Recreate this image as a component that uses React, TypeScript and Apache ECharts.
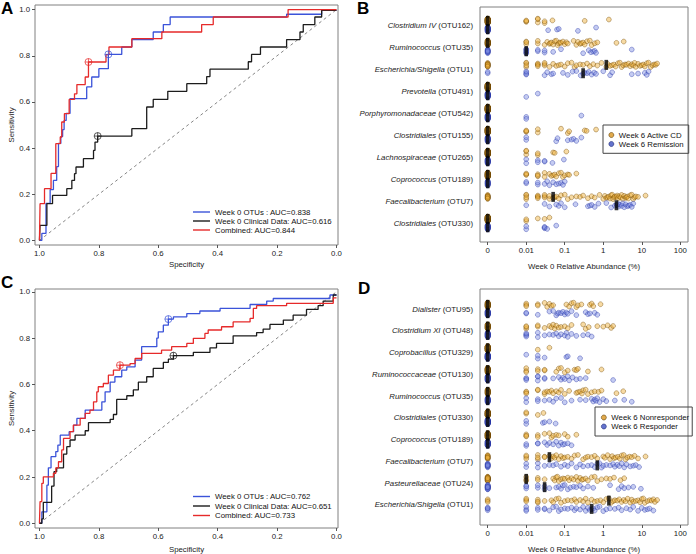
import React, { useEffect, useRef } from 'react';
import * as echarts from 'echarts';

const FONT = '"Liberation Sans", Arial, Helvetica, sans-serif';
const FS = 7.8;

// ---------- ROC data (specificity, sensitivity) ----------
const A_OTU_SPEC = [1.0,0.992,0.978,0.964,0.953,0.942,0.936,0.928,0.922,0.917,0.91,0.897,0.841,0.824,0.8,0.768,0.723,0.689,0.617,0.583,0.56,0.168,0.05,0.0];
const A_OTU_SENS = [0,0.03,0.16,0.22,0.26,0.32,0.42,0.45,0.48,0.52,0.55,0.614,0.665,0.708,0.744,0.806,0.838,0.87,0.903,0.935,0.968,0.98,0.997,1.0];
const A_CLIN_SPEC = [1.0,0.998,0.975,0.956,0.908,0.891,0.882,0.877,0.852,0.818,0.813,0.804,0.689,0.639,0.617,0.568,0.504,0.437,0.426,0.297,0.286,0.256,0.168,0.123,0.112,0.073,0.05,0.0];
const A_CLIN_SENS = [0,0.065,0.159,0.195,0.224,0.26,0.289,0.318,0.354,0.39,0.426,0.452,0.484,0.578,0.611,0.646,0.679,0.71,0.742,0.774,0.806,0.838,0.87,0.903,0.935,0.968,0.997,1.0];
const A_COMB_SPEC = [1.0,0.998,0.983,0.961,0.945,0.93,0.925,0.916,0.9,0.882,0.874,0.846,0.835,0.776,0.766,0.689,0.588,0.454,0.415,0.163,0.0];
const A_COMB_SENS = [0,0.159,0.224,0.29,0.419,0.448,0.513,0.549,0.611,0.635,0.675,0.708,0.773,0.805,0.838,0.874,0.903,0.935,0.968,1.0,1.0];
const A_BEST = { otu: [0.768, 0.806], clin: [0.804, 0.452], comb: [0.835, 0.773] };
const A_NAMES = ['Week 0 OTUs : AUC=0.838', 'Week 0 Clinical Data: AUC=0.616', 'Combined: AUC=0.844'];

const C_OTU_SPEC = [1.0,0.992,0.975,0.97,0.961,0.945,0.938,0.93,0.9,0.885,0.874,0.846,0.79,0.779,0.762,0.746,0.723,0.706,0.678,0.656,0.605,0.6,0.583,0.566,0.549,0.504,0.46,0.392,0.291,0.235,0.213,0.022,0.0];
const C_OTU_SENS = [0,0.05,0.165,0.24,0.288,0.31,0.338,0.381,0.396,0.424,0.453,0.489,0.525,0.568,0.61,0.633,0.662,0.676,0.705,0.763,0.80,0.827,0.856,0.882,0.892,0.906,0.917,0.928,0.945,0.96,0.971,0.986,0.986];
const C_CLIN_SPEC = [1.0,0.992,0.987,0.959,0.951,0.942,0.919,0.908,0.897,0.88,0.846,0.835,0.762,0.751,0.74,0.706,0.684,0.667,0.639,0.617,0.583,0.566,0.549,0.482,0.426,0.404,0.348,0.269,0.247,0.224,0.179,0.146,0.101,0.062,0.045,0.011,0.0];
const C_CLIN_SENS = [0,0.019,0.091,0.161,0.223,0.24,0.299,0.331,0.36,0.381,0.40,0.435,0.449,0.47,0.535,0.551,0.576,0.61,0.633,0.669,0.695,0.709,0.724,0.738,0.758,0.777,0.81,0.824,0.839,0.859,0.878,0.899,0.924,0.94,0.96,0.986,0.986];
const C_COMB_SPEC = [1.0,0.998,0.992,0.987,0.953,0.945,0.936,0.925,0.919,0.897,0.886,0.863,0.846,0.83,0.818,0.807,0.802,0.785,0.768,0.751,0.729,0.695,0.678,0.656,0.589,0.555,0.504,0.482,0.443,0.432,0.387,0.348,0.291,0.28,0.269,0.168,0.011,0.0];
const C_COMB_SENS = [0,0.094,0.173,0.201,0.216,0.24,0.266,0.317,0.367,0.396,0.424,0.453,0.475,0.489,0.525,0.568,0.59,0.604,0.64,0.662,0.683,0.69,0.712,0.734,0.748,0.763,0.777,0.799,0.82,0.835,0.849,0.87,0.885,0.928,0.94,0.95,0.974,0.974];
const C_BEST = { otu: [0.566, 0.882], clin: [0.549, 0.724], comb: [0.729, 0.683] };
const C_NAMES = ['Week 0 OTUs : AUC=0.762', 'Week 0 Clinical Data: AUC=0.651', 'Combined: AUC=0.733'];

const ROC_TICKS = [0, 0.2, 0.4, 0.6, 0.8, 1.0];

// ---------- Strip chart data (relative abundance %, nonzero values; rest are zeros) ----------
const B_GENUS = ['Clostridium IV','Ruminococcus','Escherichia/Shigella','Prevotella','Porphyromonadaceae','Clostridiales','Lachnospiraceae','Coprococcus','Faecalibacterium','Clostridiales'];
const B_OTU = ['(OTU162)','(OTU35)','(OTU1)','(OTU491)','(OTU542)','(OTU155)','(OTU265)','(OTU189)','(OTU7)','(OTU330)'];
const B_N_ACTIVE = 70;
const B_N_REMISSION = 30;
const B_ACTIVE: number[][] = [
  [0.01,0.01,0.01,0.02,0.02,0.02,0.03,0.03,0.048,0.33,1.4],
  [0.01,0.01,0.01,0.02,0.02,0.03,0.035,0.04,0.042,0.045,0.05,0.055,0.06,0.065,0.07,0.075,0.08,0.09,0.1,0.11,0.12,0.17,0.2,0.22,0.25,0.27,0.3,0.33,0.38,0.45,0.5,0.6,0.7,2.2,3.4],
  [0.01,0.01,0.01,0.01,0.02,0.02,0.02,0.02,0.03,0.03,0.03,0.04,0.05,0.06,0.07,0.08,0.1,0.12,0.15,0.18,0.2,0.25,0.3,0.38,0.45,0.55,0.7,0.9,1.2,1.3,1.5,1.7,1.9,2.1,2.4,2.7,3.0,3.3,3.7,4.0,4.5,5,5.5,6,6.5,7,8,9,10,11,12,13.5,15,17,19,21,23,25],
  [],
  [],
  [0.01,0.01,0.01,0.02,0.02,0.08,0.12,0.13,0.33,0.37,0.65],
  [0.01,0.01,0.01,0.02,0.02,0.05,0.055,0.11],
  [0.01,0.01,0.01,0.02,0.02,0.02,0.03,0.03,0.04,0.045,0.05,0.055,0.06,0.07,0.08,0.09,0.1,0.12,0.13,0.2],
  [0.01,0.01,0.01,0.01,0.02,0.02,0.02,0.02,0.03,0.03,0.03,0.04,0.04,0.05,0.055,0.06,0.07,0.08,0.1,0.12,0.15,0.2,0.25,0.3,0.4,0.5,0.6,0.8,1.0,1.1,1.2,1.3,1.4,1.5,1.6,1.7,1.8,1.9,2.0,2.2,2.3,2.4,2.6,2.8,3.0,3.2,3.5,3.8,4.0,4.2,4.5,5.0,5.5,6.0,6.5,7.0,8.0,12.5],
  [0.01,0.01,0.02,0.03,0.04],
];
const B_REMISSION: number[][] = [
  [0.037,0.063,0.07,0.22,0.65],
  [0.01,0.01,0.01,0.01,0.01,0.01,0.02,0.02,0.03,0.03,0.05,0.08,0.3,0.42,0.48,0.55,0.6,0.65,5.5],
  [0.01,0.01,0.01,0.01,0.03,0.035,0.045,0.05,0.09,0.12,0.16,0.2,0.26,0.3,0.33,0.38,0.42,0.5,0.58,0.65,1.0,1.5,1.7,5.5,8,12,13.5,15],
  [0.01,0.02],
  [0.01,0.01,0.27],
  [0.01,0.01,0.06,0.065,0.12,0.15,0.17,0.2,0.27],
  [0.01,0.01,0.02,0.02,0.03,0.03,0.048,0.095],
  [0.01,0.01,0.02,0.02,0.03,0.035,0.04,0.05,0.06,0.07,0.08,0.09,0.1],
  [0.01,0.03,0.04,0.06,0.07,0.08,0.1,0.19,0.4,0.45,0.5,0.6,0.75,1.2,1.6,2.0,2.2,2.3,2.4,2.5,2.7,3.0,3.2,3.5,3.8,4.2,4.6,5.0,5.5,6.0],
  [0.01,0.01,0.03,0.03,0.03,0.035,0.06],
];
const B_ACTIVE_MEDIAN = [0,0,1.2,0,0,0,0,0,0.05,0];
const B_REMISSION_MEDIAN = [0,0.01,0.3,0,0,0,0,0,2.2,0];

const D_GENUS = ['Dialister','Clostridium XI','Coprobacillus','Ruminococcaceae','Ruminococcus','Clostridiales','Coprococcus','Faecalibacterium','Pasteurellaceae','Escherichia/Shigella'];
const D_OTU = ['(OTU95)','(OTU48)','(OTU329)','(OTU130)','(OTU35)','(OTU330)','(OTU189)','(OTU7)','(OTU24)','(OTU1)'];
const D_N_NONRESP = 55;
const D_N_RESP = 46;
const D_NONRESP: number[][] = [
  [0.01,0.01,0.01,0.02,0.02,0.03,0.035,0.04,0.045,0.05,0.11,0.13,0.15,0.17,0.2,0.22,0.27,0.45,0.5,0.55,0.85],
  [0.01,0.01,0.01,0.02,0.02,0.03,0.04,0.045,0.05,0.055,0.06,0.07,0.08,0.1,0.12,0.15,0.3,0.35,0.42,0.7,1.0,1.3,1.6,1.8],
  [0.02,0.04],
  [0.01,0.01,0.01,0.02,0.02,0.03,0.03,0.06,0.07,0.08,0.1,0.12,0.18,0.2,0.22,0.4,0.9],
  [0.01,0.01,0.01,0.02,0.02,0.03,0.03,0.035,0.04,0.045,0.05,0.06,0.07,0.08,0.1,0.13,0.2,0.22,0.25,0.28,0.3,0.35,0.4,0.5,0.6,0.75,0.9,2.2,3.3],
  [0.01,0.01,0.02,0.028],
  [0.01,0.01,0.01,0.02,0.02,0.03,0.04,0.045,0.05,0.06,0.07,0.1,0.12,0.2],
  [0.01,0.01,0.01,0.02,0.02,0.02,0.03,0.03,0.04,0.045,0.05,0.055,0.06,0.07,0.08,0.09,0.1,0.12,0.15,0.18,0.22,0.3,0.35,0.4,0.5,0.6,0.7,1.0,1.1,1.3,1.5,1.7,1.9,2.1,2.4,2.7,3.0,3.4,3.8,4.2,4.8,5.5,6.5,8,12.5],
  [0.01,0.01,0.01,0.02,0.02,0.03,0.05,0.055,0.06,0.065,0.07,0.08,0.09,0.1,0.12,0.13,0.15,0.17,0.2,0.22,0.25,0.28,0.3,0.35,0.4,0.5,0.6,0.7,0.9,1.2,1.5,1.9,2.8,3.5],
  [0.01,0.01,0.01,0.02,0.02,0.02,0.03,0.045,0.05,0.06,0.07,0.08,0.1,0.12,0.15,0.18,0.2,0.25,0.3,0.35,0.4,0.5,0.6,0.7,0.85,1.0,1.2,1.4,1.6,1.8,2.0,2.3,2.6,3.0,3.4,3.8,4.3,5,5.5,6,7,8,9,10,11,12,14,16,18,20,22,25],
];
const D_RESP: number[][] = [
  [0.01,0.01,0.02,0.04,0.05,0.06,0.065,0.07,0.08,0.09,0.1,0.11,0.12,0.15,0.2,0.35,0.4,0.45,0.6,0.7],
  [0.01,0.01,0.01,0.01,0.02,0.02,0.03,0.04,0.05,0.06,0.07,0.08,0.1,0.11,0.12,0.15,0.2,0.3,0.4,0.5],
  [0.01,0.02,0.02,0.03,0.11,0.12,0.25],
  [0.01,0.01,0.01,0.02,0.02,0.02,0.03,0.03,0.05,0.07,0.08,0.09,0.1,0.12,0.13,0.16,0.2,0.25,0.35,1.8],
  [0.01,0.01,0.02,0.02,0.03,0.04,0.05,0.06,0.08,0.1,0.15,0.25,0.35,0.5,0.55,0.6,0.65,0.7,0.8,1.0,1.2,2.0,3.5,5.5],
  [0.01,0.01,0.027,0.03,0.04,0.058],
  [0.01,0.01,0.02,0.02,0.03,0.035,0.04,0.05,0.06,0.07,0.08,0.09,0.1,0.12,0.15],
  [0.01,0.01,0.02,0.02,0.03,0.04,0.05,0.06,0.08,0.1,0.12,0.15,0.2,0.25,0.3,0.4,0.5,0.6,0.7,0.8,0.9,1.0,1.2,1.5,1.8,2.0,2.3,2.6,3.0,3.5,4.0,5,6,7,8.5],
  [0.01,0.01,0.01,0.02,0.02,0.03,0.03,0.04,0.06,0.07,0.08,0.09,0.1,0.12,0.14,0.17,0.2,0.25,0.3,0.4,0.55,1.5,2.5,3.0,3.5,4.5,6,9.5],
  [0.01,0.01,0.01,0.02,0.02,0.03,0.03,0.04,0.05,0.06,0.07,0.08,0.1,0.12,0.15,0.18,0.2,0.25,0.3,0.35,0.4,0.45,0.5,0.55,0.6,0.7,0.8,1.0,1.2,1.5,2.0,2.5,3,4,5,6,8,10,12,14,16,20],
];
const D_NONRESP_MEDIAN = [0,0,0,0,0,0,0,0.04,0.01,1.4];
const D_RESP_MEDIAN = [0,0,0,0,0,0,0,0.7,0.03,0.5];

const LOG_TICKS = [-3, -2, -1, 0, 1, 2];
const ABUND_TICK_LABELS = ['0', '0.01', '0.1', '1', '10', '100'];

// ---------- helpers ----------
const JIT = [0, -0.6, 0.6, -0.3, 0.3, -0.9, 0.9, -0.45, 0.45, 0.15, -0.15, 0.75, -0.75, -1, 1, 0.2, -0.2];
const lx = (v: number) => (v > 0 ? Math.log10(v) : -3);
const zip = (a: number[], b: number[]) => a.map((v, i) => [v, b[i]]);

function stripPoints(rows: number[][], n: number, off: number) {
  const pts: number[][] = [];
  rows.forEach((vals, i) => {
    const zeros = Math.max(0, n - vals.length);
    const all = new Array(zeros).fill(0).concat(vals);
    all.forEach((v, k) => pts.push([lx(v), i + off + JIT[k % JIT.length] * 0.1]));
  });
  return pts;
}
const medianPoints = (meds: number[], off: number) => meds.map((m, i) => [lx(m), i + off]);

const ORANGE = { color: 'rgba(238,178,62,0.6)', borderColor: 'rgba(115,72,0,0.85)', borderWidth: 0.6 };
const BLUE = { color: 'rgba(122,138,226,0.55)', borderColor: 'rgba(38,52,165,0.85)', borderWidth: 0.6 };
const BLUE_LINE = '#3b53d9';
const RED_LINE = '#e62a2a';
const BLACK_LINE = '#1c1c1c';
const MARK = 'path://M10,5A5,5,0,1,1,0,5A5,5,0,1,1,10,5ZM5,0L5,10M0,5L10,5';

const labelStyle = { fontFamily: FONT, fontSize: FS, color: '#222' };

function rocX(gi: number, gap: number) {
  return {
    type: 'value', gridIndex: gi, min: -0.005, max: 1.015, inverse: true,
    axisLine: { show: false, onZero: false }, splitLine: { show: false }, minorTick: { show: false },
    axisTick: { show: true, inside: false, length: 3, customValues: ROC_TICKS, lineStyle: { color: '#555' } },
    axisLabel: { ...labelStyle, margin: 4, customValues: ROC_TICKS, formatter: (v: number) => v.toFixed(1) },
    name: 'Specificity', nameLocation: 'middle', nameGap: gap,
    nameTextStyle: { ...labelStyle },
  };
}
function rocY(gi: number, max: number) {
  return {
    type: 'value', gridIndex: gi, min: -0.02, max,
    axisLine: { show: false, onZero: false }, splitLine: { show: false }, minorTick: { show: false },
    axisTick: { show: true, inside: false, length: 3, customValues: ROC_TICKS, lineStyle: { color: '#555' } },
    axisLabel: { ...labelStyle, margin: 5, customValues: ROC_TICKS, formatter: (v: number) => v.toFixed(1) },
    name: 'Sensitivity', nameLocation: 'middle', nameGap: 16,
    nameTextStyle: { ...labelStyle },
  };
}
function stripX(gi: number, gap: number) {
  return {
    type: 'value', gridIndex: gi, min: -3.2, max: 2.2,
    axisLine: { show: false, onZero: false }, splitLine: { show: false }, minorTick: { show: false },
    axisTick: { show: true, inside: false, length: 3, customValues: LOG_TICKS, lineStyle: { color: '#555' } },
    axisLabel: { ...labelStyle, margin: 4, customValues: LOG_TICKS,
      formatter: (v: number) => ABUND_TICK_LABELS[LOG_TICKS.indexOf(Math.round(v))] ?? '' },
    name: 'Week 0 Relative Abundance (%)', nameLocation: 'middle', nameGap: gap,
    nameTextStyle: { ...labelStyle },
  };
}
function stripY(gi: number, min: number, max: number) {
  return {
    type: 'value', gridIndex: gi, min, max, inverse: true,
    axisLine: { show: false, onZero: false }, splitLine: { show: false }, axisTick: { show: false },
    minorTick: { show: false }, axisLabel: { show: false },
  };
}

function rocSeries(gi: number, names: string[], curves: number[][][], best: number[][]) {
  const colors = [BLUE_LINE, BLACK_LINE, RED_LINE];
  const out: any[] = [{
    type: 'line', xAxisIndex: gi, yAxisIndex: gi, data: [[1, 0], [0, 1]], symbol: 'none', silent: true,
    lineStyle: { color: '#666', width: 0.8, type: [3, 3] }, z: 1,
  }];
  [1, 0, 2].forEach((k) => {
    out.push({
      type: 'line', name: names[k], xAxisIndex: gi, yAxisIndex: gi, data: curves[k], step: 'end',
      symbol: 'none', lineStyle: { color: colors[k], width: 1.3 }, itemStyle: { color: colors[k] }, z: 2 + k,
    });
  });
  [0, 1, 2].forEach((k) => {
    out.push({
      type: 'scatter', xAxisIndex: gi, yAxisIndex: gi, data: [best[k]], symbol: MARK, symbolSize: 7,
      itemStyle: { color: 'rgba(0,0,0,0)', borderColor: colors[k], borderWidth: 0.9 }, z: 6, silent: true,
    });
  });
  return out;
}

function stripSeries(gi: number, names: string[], rowsA: number[][], nA: number, rowsB: number[][], nB: number,
  medA: number[], medB: number[], offA: number, offB: number) {
  return [
    { type: 'scatter', name: names[0], xAxisIndex: gi, yAxisIndex: gi, data: stripPoints(rowsA, nA, offA),
      symbol: 'circle', symbolSize: 4.8, itemStyle: ORANGE, z: 2, silent: true },
    { type: 'scatter', name: names[1], xAxisIndex: gi, yAxisIndex: gi, data: stripPoints(rowsB, nB, offB),
      symbol: 'circle', symbolSize: 4.8, itemStyle: BLUE, z: 3, silent: true },
    { type: 'scatter', xAxisIndex: gi, yAxisIndex: gi,
      data: medianPoints(medA, offA).concat(medianPoints(medB, offB)),
      symbol: 'rect', symbolSize: [3.6, 10], itemStyle: { color: '#000' }, z: 4, silent: true },
  ];
}

const letter = (t: string, x: number, y: number) => ({
  type: 'text', x, y,
  style: { text: t, font: `bold 17px ${FONT}`, fill: '#000', verticalAlign: 'top', textVerticalAlign: 'top' },
});
const LETTERS = [letter('A', 1, 0), letter('B', 357, 0), letter('C', 1, 274), letter('D', 358, 280)];

function buildOption() {
  const gridStyle = { show: true, borderColor: '#808080', borderWidth: 1, backgroundColor: 'transparent' };
  return {
    animation: false,
    backgroundColor: '#fff',
    textStyle: { fontFamily: FONT },
    grid: [
      { left: 35, top: 5, width: 303, height: 240, ...gridStyle },
      { left: 480, top: 7, width: 208, height: 235, ...gridStyle },
      { left: 35, top: 289, width: 303, height: 239, ...gridStyle },
      { left: 480, top: 289, width: 208, height: 236, ...gridStyle },
    ],
    xAxis: [rocX(0, 15), stripX(1, 20), rocX(2, 17), stripX(3, 20)],
    yAxis: [rocY(0, 1.02), stripY(1, -0.82, 9.86), rocY(2, 1.012), stripY(3, -0.93, 9.92)],
    legend: [
      { data: A_NAMES, orient: 'vertical', left: 193, top: 207.5, padding: 0, itemGap: 0, icon: 'rect',
        itemWidth: 17, itemHeight: 1.4, textStyle: { ...labelStyle, color: '#111', lineHeight: 9 }, selectedMode: false },
      { data: C_NAMES, orient: 'vertical', left: 193, top: 492, padding: 0, itemGap: 0.5, icon: 'rect',
        itemWidth: 17, itemHeight: 1.4, textStyle: { ...labelStyle, color: '#111', lineHeight: 9 }, selectedMode: false },
      { data: [
          { name: 'Week 6 Active CD', itemStyle: { color: '#d99520', borderColor: '#5a3a00', borderWidth: 0.7 } },
          { name: 'Week 6 Remission', itemStyle: { color: '#3d50c0', borderColor: '#1a2470', borderWidth: 0.7 } },
        ],
        orient: 'vertical', left: 603, top: 125, padding: [5.5, 5, 4.8, 5.5], itemGap: 0, icon: 'circle',
        itemWidth: 5, itemHeight: 5, borderColor: '#444', borderWidth: 1,
        textStyle: { ...labelStyle, color: '#111', lineHeight: 9 }, selectedMode: false },
      { data: [
          { name: 'Week 6 Nonresponder', itemStyle: { color: '#d99520', borderColor: '#5a3a00', borderWidth: 0.7 } },
          { name: 'Week 6 Responder', itemStyle: { color: '#3d50c0', borderColor: '#1a2470', borderWidth: 0.7 } },
        ],
        orient: 'vertical', left: 595, top: 407, padding: [6, 3, 5, 6], itemGap: 0, icon: 'circle',
        itemWidth: 5, itemHeight: 5, borderColor: '#444', borderWidth: 1,
        textStyle: { ...labelStyle, color: '#111', lineHeight: 9 }, selectedMode: false },
    ],
    graphic: LETTERS,
    series: [
      ...rocSeries(0, A_NAMES,
        [zip(A_OTU_SPEC, A_OTU_SENS), zip(A_CLIN_SPEC, A_CLIN_SENS), zip(A_COMB_SPEC, A_COMB_SENS)],
        [A_BEST.otu, A_BEST.clin, A_BEST.comb]),
      ...rocSeries(2, C_NAMES,
        [zip(C_OTU_SPEC, C_OTU_SENS), zip(C_CLIN_SPEC, C_CLIN_SENS), zip(C_COMB_SPEC, C_COMB_SENS)],
        [C_BEST.otu, C_BEST.clin, C_BEST.comb]),
      ...stripSeries(1, ['Week 6 Active CD', 'Week 6 Remission'], B_ACTIVE, B_N_ACTIVE, B_REMISSION, B_N_REMISSION,
        B_ACTIVE_MEDIAN, B_REMISSION_MEDIAN, -0.19, 0.19),
      ...stripSeries(3, ['Week 6 Nonresponder', 'Week 6 Responder'], D_NONRESP, D_N_NONRESP, D_RESP, D_N_RESP,
        D_NONRESP_MEDIAN, D_RESP_MEDIAN, -0.2, 0.18),
    ],
  };
}

// Category labels: italic taxon + upright OTU id, placed at each row through the grid's own scale.
function categoryLabels(chart: echarts.ECharts) {
  const ctx = document.createElement('canvas').getContext('2d');
  const plain = `${FS}px ${FONT}`;
  const ital = `italic ${FS}px ${FONT}`;
  const out: any[] = [];
  const panels: [number, string[], string[]][] = [[1, B_GENUS, B_OTU], [3, D_GENUS, D_OTU]];
  panels.forEach(([gi, genus, otu]) => {
    const gridRect = chart.convertToPixel({ gridIndex: gi } as any, [-3.2, 0]) as number[];
    const right = gridRect[0] - 7;
    genus.forEach((g, i) => {
      const p = chart.convertToPixel({ gridIndex: gi } as any, [-3.2, i]) as number[];
      let w = 0;
      if (ctx) { ctx.font = plain; w = ctx.measureText(' ' + otu[i]).width; }
      out.push({ type: 'text', x: right, y: p[1], silent: true,
        style: { text: otu[i], font: plain, fill: '#222', align: 'right', verticalAlign: 'middle',
          textAlign: 'right', textVerticalAlign: 'middle' } });
      out.push({ type: 'text', x: right - w, y: p[1], silent: true,
        style: { text: g, font: ital, fill: '#222', align: 'right', verticalAlign: 'middle',
          textAlign: 'right', textVerticalAlign: 'middle' } });
    });
  });
  return out;
}

export default function App() {
  const ref = useRef<HTMLDivElement>(null);
  useEffect(() => {
    if (!ref.current) return;
    const chart = echarts.init(ref.current, null, { renderer: 'svg' });
    chart.setOption(buildOption() as any);
    chart.setOption({ graphic: [...LETTERS, ...categoryLabels(chart)] } as any);
    return () => chart.dispose();
  }, []);
  return (
    <div
      ref={ref}
      style={{ position: 'absolute', left: 0, top: 0, width: 696, height: 554, background: '#fff' }}
    />
  );
}
